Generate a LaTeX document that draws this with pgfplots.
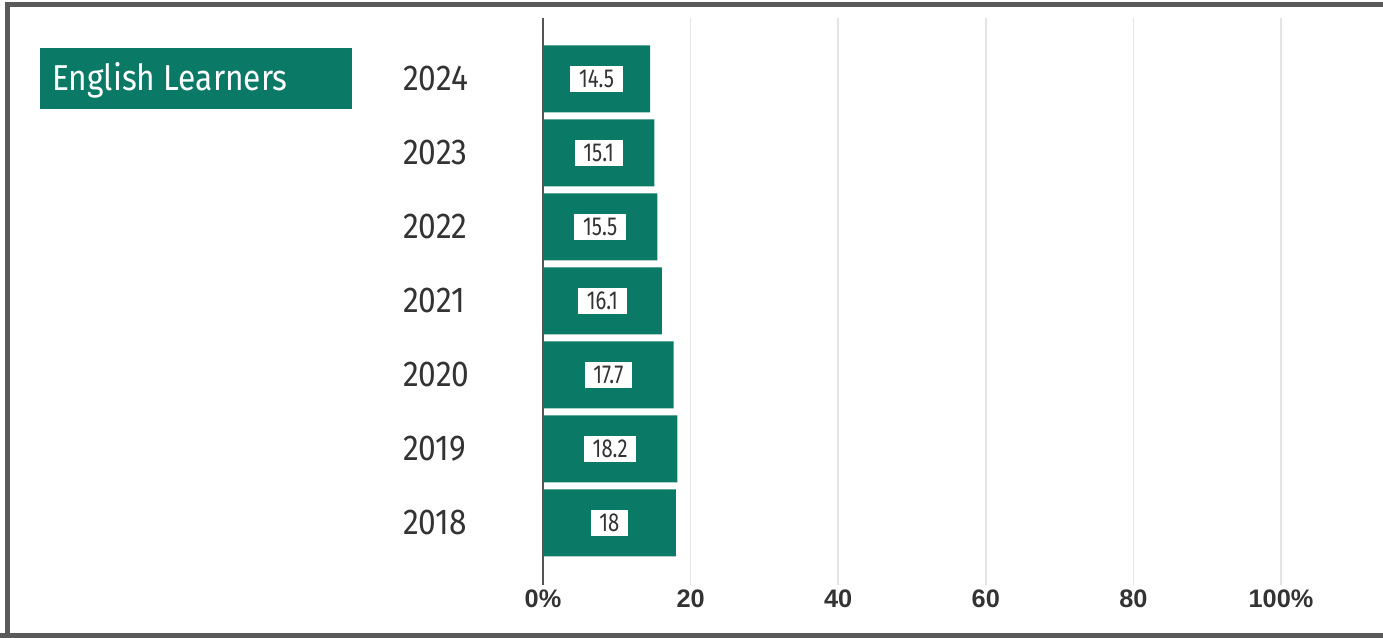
\documentclass[border=0pt]{standalone}
\usepackage{pgfplots}
\pgfplotsset{compat=1.18}
\usepackage{pgfplotstable}
\usepackage{fontspec}
\setmainfont{Fira Sans}
\newfontfamily\yearfont[FakeStretch=0.88]{Fira Sans}
\newfontfamily\labfont[FakeStretch=0.78]{Fira Sans}
\newfontfamily\tickfont{Liberation Sans}
\definecolor{elgreen}{HTML}{0A7A66}
\definecolor{framegray}{HTML}{5A5A5A}
\definecolor{gridgray}{HTML}{E4E4E4}
\definecolor{txtgray}{HTML}{333333}
\definecolor{zerogray}{HTML}{555555}

\pgfplotstableread{
y v label
0 18 18
1 18.2 18.2
2 17.7 17.7
3 16.1 16.1
4 15.5 15.5
5 15.1 15.1
6 14.5 14.5
}\data

\begin{document}
\begin{tikzpicture}
\begin{scope}[x=0.75pt,y=0.75pt]
\path[use as bounding box] (0,0) rectangle (1383,638);
% frame
\draw[framegray, line width=3.75pt] (7.5,0) -- (7.5,633.5) -- (1383,633.5);
\draw[framegray, line width=3.75pt] (0,2.5) -- (1383,2.5);
% title box
\fill[elgreen] (40,529) rectangle (352,590);
\node[anchor=west, text=white, inner sep=0pt, font=\yearfont\fontsize{27}{27}\selectfont] at (52,558) {English Learners};
\end{scope}

\begin{axis}[
  at={(407.25pt,39.75pt)}, anchor=south west,
  scale only axis,
  width=553.5pt, height=425.25pt,
  xmin=0, xmax=100,
  ymin=-0.838, ymax=6.824,
  axis x line*=bottom,
  axis y line*=left,
  x axis line style={draw=none},
  y axis line style={-, draw=zerogray, line width=1.1pt},
  xtick={0,20,40,60,80,100},
  xticklabels={0\%,20,40,60,80,100\%},
  ytick={0,1,2,3,4,5,6},
  yticklabels={2018,2019,2020,2021,2022,2023,2024},
  major tick length=0pt,
  xmajorgrids=true,
  grid style={draw=gridgray, line width=1.2pt},
  xticklabel style={font=\tickfont\bfseries\fontsize{19}{19}\selectfont, text=txtgray},
  yticklabel style={font=\yearfont\fontsize{27}{27}\selectfont, text=txtgray, anchor=west, inner xsep=0pt, xshift=-105pt},
  clip=false,
]
\addplot[xbar, fill=elgreen, draw=none, bar width=0.905] table[x=v, y=y] {\data};
\addplot[draw=none, mark=none, nodes near coords, point meta=explicit symbolic,
  nodes near coords style={anchor=center, fill=white, text=txtgray, inner xsep=6.5pt, inner ysep=3pt,
  font=\labfont\fontsize{19.5}{19.5}\selectfont}]
  table[x expr=\thisrow{v}/2, y=y, meta=label] {\data};
\end{axis}
\end{tikzpicture}
\end{document}
